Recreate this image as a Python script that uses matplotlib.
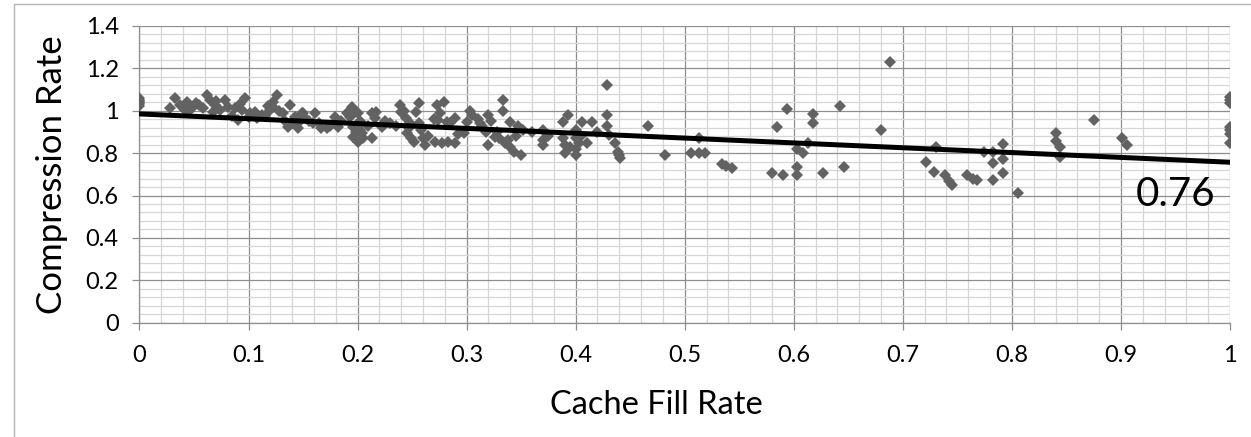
import numpy as np
import matplotlib
matplotlib.use("Agg")
import matplotlib.pyplot as plt
from matplotlib.ticker import MultipleLocator, FuncFormatter
from matplotlib.patches import Rectangle

plt.rcParams['font.family'] = ['Lato', 'DejaVu Sans']

# cache fill rate / compression rate samples
fill_rate = [
    0, 0, 0, 0, 0, 0, 0,
    0.033, 0.028, 0.037, 0.044, 0.049, 0.042, 0.055, 0.062, 0.065, 0.058,
    0.069, 0.067, 0.074, 0.078, 0.081, 0.088, 0.097, 0.094, 0.090, 0.101,
    0.106, 0.112, 0.120, 0.126, 0.122, 0.122, 0.132, 0.138, 0.136, 0.143,
    0.145, 0.149,
    0.045, 0.052, 0.070, 0.085, 0.092, 0.100, 0.108, 0.115, 0.118, 0.128,
    0.133, 0.140, 0.147,
    0.150, 0.152, 0.161, 0.159, 0.166, 0.172, 0.179, 0.182, 0.195, 0.198,
    0.193, 0.200, 0.196, 0.199, 0.196, 0.200, 0.204, 0.213, 0.213, 0.217,
    0.216, 0.222, 0.230, 0.239, 0.240, 0.244, 0.248, 0.245, 0.252, 0.249,
    0.256, 0.254, 0.256, 0.260, 0.262, 0.273, 0.276, 0.279, 0.274, 0.282,
    0.289, 0.271, 0.277, 0.283, 0.289, 0.298, 0.300,
    0.155, 0.165, 0.175, 0.185, 0.190, 0.197, 0.202, 0.202, 0.205, 0.210,
    0.225, 0.235, 0.243, 0.247, 0.258, 0.265, 0.270, 0.285, 0.292,
    0.303, 0.305, 0.310, 0.312, 0.314, 0.320, 0.322, 0.320, 0.326, 0.333,
    0.333, 0.330, 0.335, 0.340, 0.338, 0.340, 0.343, 0.350, 0.347, 0.352,
    0.370, 0.370, 0.370, 0.388, 0.393, 0.388, 0.390, 0.390, 0.400, 0.400,
    0.400, 0.400, 0.403, 0.406, 0.410, 0.415, 0.429, 0.429, 0.429, 0.431,
    0.436, 0.439, 0.440, 0.441,
    0.318, 0.328, 0.345, 0.360, 0.375, 0.395, 0.405, 0.420,
    0.466, 0.482, 0.506, 0.513, 0.513, 0.519, 0.534, 0.538, 0.543, 0.580,
    0.585, 0.590, 0.594, 0.603, 0.603, 0.603, 0.608, 0.613, 0.618, 0.618,
    0.627, 0.642, 0.646, 0.680, 0.688, 0.721, 0.729, 0.730, 0.739, 0.742,
    0.745, 0.759, 0.764, 0.768, 0.774, 0.783, 0.783, 0.783, 0.792, 0.792,
    0.792, 0.806, 0.840, 0.840, 0.844, 0.844, 0.875, 0.901, 0.906,
    1.0, 1.0, 1.0, 1.0, 1.0, 1.0, 1.0,
]
compression_rate = [
    1.060, 1.050, 1.045, 1.040, 1.035, 1.030, 1.020,
    1.059, 1.013, 1.027, 1.043, 1.019, 1.004, 1.027, 1.075, 1.051, 1.013,
    1.027, 0.996, 1.004, 1.051, 1.019, 1.013, 1.060, 1.004, 0.957, 0.990,
    0.996, 0.980, 1.004, 1.075, 1.043, 1.019, 0.990, 1.027, 0.925, 0.972,
    0.918, 0.990,
    1.000, 1.035, 1.045, 0.975, 1.030, 0.970, 0.965, 0.975, 1.020, 1.000,
    0.950, 0.940, 0.950,
    0.988, 0.965, 0.988, 0.941, 0.917, 0.917, 0.972, 0.925, 1.019, 0.996,
    0.972, 0.988, 0.925, 0.901, 0.878, 0.854, 0.894, 0.870, 0.988, 0.996,
    0.965, 0.925, 0.941, 1.027, 0.996, 0.965, 0.941, 0.894, 0.854, 0.870,
    1.035, 0.996, 0.941, 0.870, 0.839, 1.027, 0.988, 1.043, 0.957, 0.949,
    0.965, 0.854, 0.847, 0.854, 0.847, 0.894, 0.949,
    0.950, 0.940, 0.930, 0.950, 0.990, 1.005, 0.950, 0.910, 0.870, 0.930,
    0.950, 0.930, 1.000, 0.920, 0.910, 0.880, 0.960, 0.940, 0.890,
    1.000, 0.980, 0.960, 0.940, 0.930, 0.980, 0.950, 0.840, 0.875, 1.050,
    1.000, 0.870, 0.850, 0.830, 0.860, 0.947, 0.805, 0.790, 0.930, 0.910,
    0.910, 0.860, 0.840, 0.947, 0.980, 0.870, 0.840, 0.800, 0.910, 0.870,
    0.820, 0.790, 0.850, 0.947, 0.850, 0.947, 1.120, 0.980, 0.930, 0.885,
    0.850, 0.805, 0.790, 0.775,
    0.900, 0.900, 0.880, 0.900, 0.880, 0.830, 0.880, 0.900,
    0.930, 0.790, 0.800, 0.870, 0.800, 0.800, 0.750, 0.740, 0.730, 0.707,
    0.925, 0.697, 1.010, 0.735, 0.697, 0.820, 0.800, 0.850, 0.985, 0.940,
    0.706, 1.022, 0.735, 0.910, 1.230, 0.760, 0.710, 0.830, 0.697, 0.670,
    0.650, 0.697, 0.680, 0.673, 0.806, 0.806, 0.753, 0.673, 0.843, 0.772,
    0.706, 0.610, 0.895, 0.858, 0.830, 0.780, 0.956, 0.870, 0.840,
    1.065, 1.050, 1.035, 0.925, 0.910, 0.890, 0.850,
]

# linear trend line (start at 0, end at 1)
trend_start = 0.985
trend_end = 0.757

fig = plt.figure(figsize=(12.51, 4.37), dpi=100)
ax = fig.add_axes([0.1115, 0.2616, 0.8717, 0.679])

# chart area border
fig.patches.append(Rectangle((14 / 1251, -0.05), 1.2, 1.05 - 4 / 437,
                             transform=fig.transFigure, fill=False,
                             edgecolor='#b4b4b4', linewidth=1.0))

ax.plot(fill_rate, compression_rate, linestyle='none', marker='D',
        markersize=6.3, color='#626262', markeredgewidth=0, zorder=3)
ax.plot([0, 1], [trend_start, trend_end], color='black', linewidth=3.6, zorder=4)
ax.text(0.95, 0.603, f"{trend_end:.2f}", fontsize=29, ha='center', va='center',
        color='black', zorder=5)

ax.set_xlim(0, 1)
ax.set_ylim(0, 1.4)
ax.xaxis.set_major_locator(MultipleLocator(0.1))
ax.xaxis.set_minor_locator(MultipleLocator(0.02))
ax.yaxis.set_major_locator(MultipleLocator(0.2))
ax.yaxis.set_minor_locator(MultipleLocator(0.04))
fmt = FuncFormatter(lambda v, p: f"{v:.1f}".rstrip('0').rstrip('.') if v != 0 else "0")
ax.xaxis.set_major_formatter(fmt)
ax.yaxis.set_major_formatter(fmt)

ax.grid(which='minor', color='#d6d6d6', linewidth=0.9, zorder=0)
ax.grid(which='major', color='#8e8e8e', linewidth=0.9, zorder=1)
ax.set_axisbelow(True)

ax.tick_params(which='minor', length=0)
ax.tick_params(which='major', direction='out', length=5, width=0.9,
               color='#8e8e8e', labelsize=17, labelcolor='black')
ax.tick_params(axis='x', pad=11)
ax.tick_params(axis='y', pad=10)

for side in ['top', 'right']:
    ax.spines[side].set_visible(False)
for side in ['left', 'bottom']:
    ax.spines[side].set_color('#8e8e8e')
    ax.spines[side].set_linewidth(0.9)

ax.set_xlabel("Cache Fill Rate", fontsize=23.5)
ax.set_ylabel("Compression Rate", fontsize=25)
ax.xaxis.set_label_coords(0.474, -0.227)
ax.yaxis.set_label_coords(-0.0656, 0.5)

fig.savefig("out.png", dpi=100)
